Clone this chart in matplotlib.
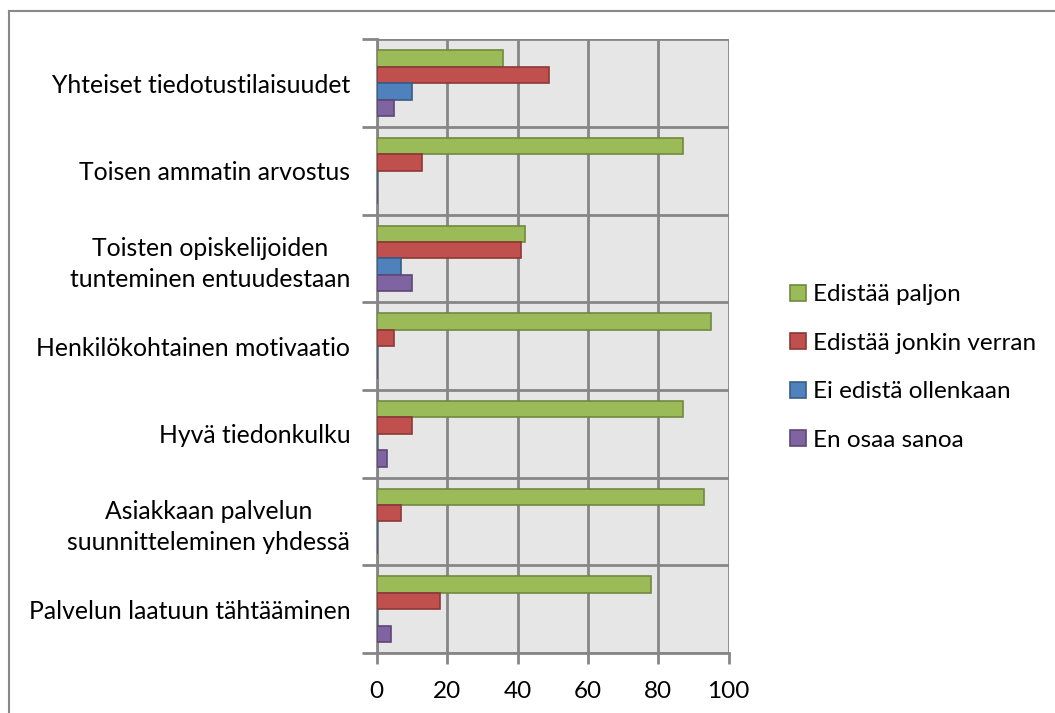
import numpy as np
import matplotlib.pyplot as plt
from matplotlib.lines import Line2D
from matplotlib.patches import Patch

categories = ['Yhteiset tiedotustilaisuudet', 'Toisen ammatin arvostus',
              'Toisten opiskelijoiden\ntunteminen entuudestaan',
              'Henkilökohtainen motivaatio', 'Hyvä tiedonkulku',
              'Asiakkaan palvelun\nsuunnitteleminen yhdessä',
              'Palvelun laatuun tähtääminen']
series = ['Edistää paljon', 'Edistää jonkin verran', 'Ei edistä ollenkaan', 'En osaa sanoa']
paljon = [36, 87, 42, 95, 87, 93, 78]
jonkin = [49, 13, 41, 5, 10, 7, 18]
ei = [10, 0, 7, 0, 0, 0, 0]
en_osaa = [5, 0, 10, 0, 3, 0, 4]
xticks = [0, 20, 40, 60, 80, 100]

colors = ['#9bbb59', '#c0504d', '#4f81bd', '#8064a2']
edges = ['#71893f', '#8c3836', '#385d8a', '#5c4776']

plt.rcParams['font.family'] = ['Lato', 'DejaVu Sans']
fig = plt.figure(figsize=(10.55, 7.13), dpi=100)
ax = fig.add_axes([376.7 / 1055, 1 - 653 / 713, 352 / 1055, 613.7 / 713])

n = len(categories)
pos = np.arange(n)[::-1]  # first category at the top
h = 0.1875
for i, (vals, name) in enumerate(zip([paljon, jonkin, ei, en_osaa], series)):
    y = pos + 0.375 - h * (i + 0.5)
    ax.barh(y, vals, height=h, color=colors[i], edgecolor=edges[i], linewidth=1.2,
            label=name, zorder=3)

ax.set_xlim(0, 100)
ax.set_ylim(-0.5, n - 0.5)
ax.set_facecolor('#e6e6e6')
ax.set_xticks(xticks)
ax.set_xticklabels([str(t) for t in xticks], fontsize=17.5)
ax.set_yticks(pos)
ax.set_yticklabels(categories, fontsize=17.8, linespacing=1.4, multialignment='center')
ax.set_yticks(np.arange(n + 1) - 0.5, minor=True)
ax.tick_params(axis='y', which='major', length=0, pad=19)
ax.tick_params(axis='y', which='minor', length=11, width=2, color='#868686')
ax.tick_params(axis='x', length=8, width=2, color='#868686', pad=12)
ax.grid(axis='x', color='#868686', linewidth=2, zorder=1)
ax.grid(axis='y', which='minor', color='#868686', linewidth=2, zorder=1)
ax.set_axisbelow(True)
for s in ['top', 'right']:
    ax.spines[s].set_visible(False)
for s in ['left', 'bottom']:
    ax.spines[s].set_color('#868686')
    ax.spines[s].set_linewidth(2)

handles = [Patch(facecolor=c, edgecolor=e, linewidth=1.2) for c, e in zip(colors, edges)]
fig.legend(handles, series, loc='upper left', bbox_to_anchor=(771 / 1055, 1 - 265 / 713),
           frameon=False, fontsize=17.5, handlelength=0.62, handleheight=0.62,
           handletextpad=0.3, labelspacing=1.13, borderpad=0.3)

# outer chart border (only top and left visible in the crop)
fig.add_artist(Line2D([8.5 / 1055, 1], [1 - 10.5 / 713] * 2, color='#888888', linewidth=1.5))
fig.add_artist(Line2D([8.5 / 1055] * 2, [0, 1 - 10.5 / 713], color='#888888', linewidth=1.5))

fig.savefig('out.png', dpi=100)
